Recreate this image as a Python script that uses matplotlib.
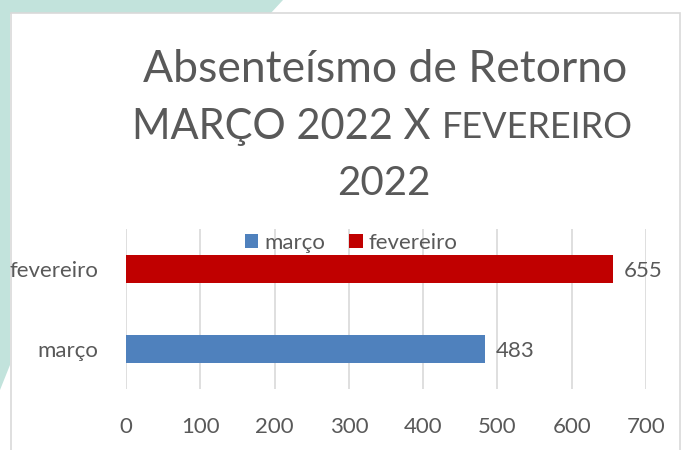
import matplotlib.pyplot as plt
from matplotlib.patches import Polygon, Rectangle

categorias = ['março', 'fevereiro']
valores = [483, 655]
cores = ['#4f81bd', '#c00000']
xticks = [0, 100, 200, 300, 400, 500, 600, 700]

cinza = '#595959'
plt.rcParams['font.family'] = ['Lato', 'DejaVu Sans']

fig = plt.figure(figsize=(6.86, 4.5), dpi=100)
W, H = 686, 450

# fundo verde-agua atras do grafico
fig.patches.append(Polygon([(0, 1), (283 / W, 1), (270 / W, 1 - 14 / H), (10 / W, 1 - 14 / H),
                            (10 / W, 1 - 365 / H), (0, 1 - 390 / H)],
                           closed=True, transform=fig.transFigure, facecolor='#c2e3dc',
                           edgecolor='none', zorder=0))
# moldura do grafico
fig.patches.append(Rectangle((11 / W, -0.01), 669 / W, 1 - 13 / H + 0.01, transform=fig.transFigure,
                             facecolor='white', edgecolor='#d9d9d9', lw=1.2, zorder=1))

ax = fig.add_axes([126 / W, 1 - 389 / H, 520 / W, 160 / H])
ax.set_zorder(5)
ax.set_facecolor('none')
y = range(len(categorias))
barras = ax.barh(y, valores, height=0.35, color=cores, zorder=3)
for yi, v in zip(y, valores):
    ax.text(v + 15, yi - 0.03, str(v), va='center', ha='left', fontsize=16, color=cinza)

ax.set_xlim(0, 700)
ax.set_ylim(-0.5, 1.5)
ax.set_xticks(xticks)
ax.set_yticks(list(y))
ax.set_yticklabels(categorias)
ax.tick_params(length=0, labelsize=16, colors=cinza)
ax.tick_params(axis='x', pad=20)
ax.tick_params(axis='y', pad=20)
ax.grid(axis='x', color='#d9d9d9', lw=1.2, zorder=0)
for s in ax.spines.values():
    s.set_visible(False)

ax.legend(barras, categorias, loc='center', bbox_to_anchor=(351 / W, 1 - 243 / H),
          bbox_transform=fig.transFigure, ncol=2, frameon=False, fontsize=16,
          handlelength=0.6, handleheight=0.6, handletextpad=0.25, columnspacing=1.1,
          labelcolor=cinza, borderpad=0)

fig.text(385 / W, 1 - 70 / H, 'Absenteísmo de Retorno', ha='center', va='center',
         fontsize=32, color=cinza, zorder=6)
fig.text(431 / W, 1 - 127 / H, 'MARÇO 2022 X', ha='right', va='center', fontsize=30,
         color=cinza, zorder=6)
fig.text(442 / W, 1 - 128 / H, 'FEVEREIRO', ha='left', va='center', fontsize=26,
         color=cinza, zorder=6)
fig.text(384 / W, 1 - 183 / H, '2022', ha='center', va='center', fontsize=29, color=cinza,
         zorder=6)

fig.savefig('out.png', dpi=100)
